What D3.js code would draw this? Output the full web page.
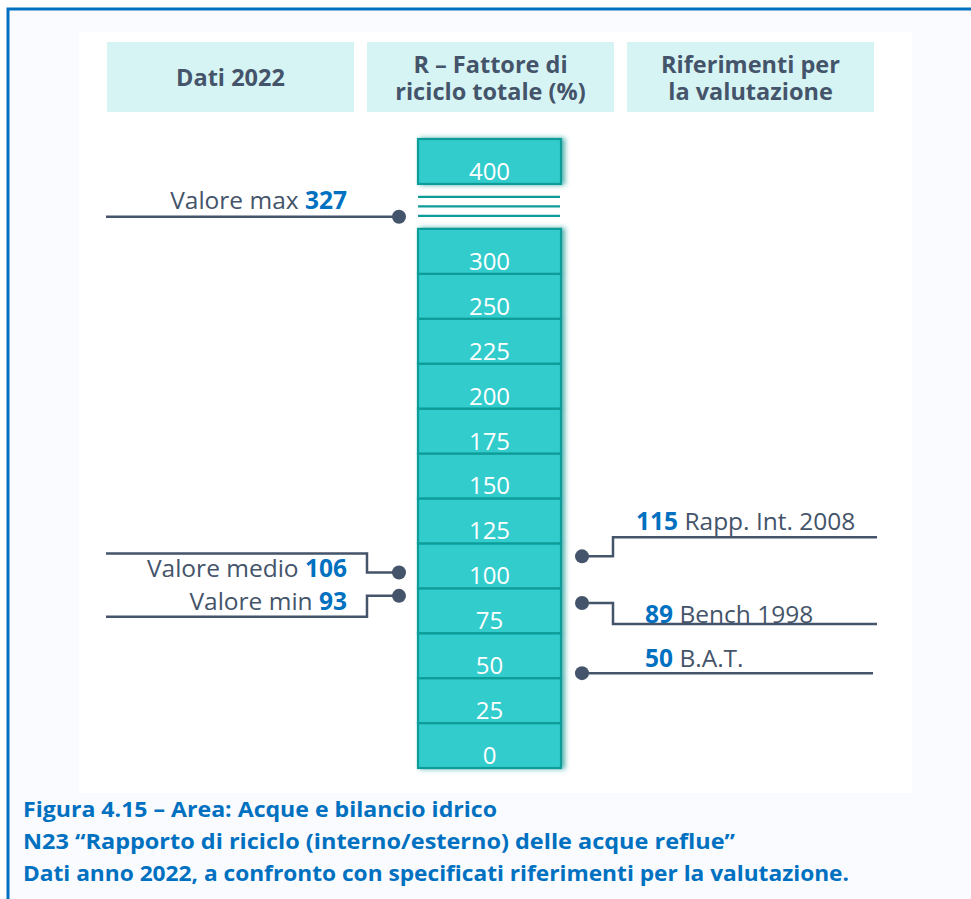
<!DOCTYPE html>
<html><head><meta charset="utf-8">
<script src="https://cdn.jsdelivr.net/npm/d3@7"></script>
<style>html,body{margin:0;padding:0;background:#fff;} svg{display:block;}</style>
</head><body>
<script>
// ---------- data ----------
const segmentTicks = [0, 25, 50, 75, 100, 125, 150, 175, 200, 225, 250, 300];
const topTick = 400;
const headerLines = [["Dati 2022"], ["R – Fattore di", "riciclo totale (%)"], ["Riferimenti per", "la valutazione"]];
const datiLabels = ["Valore max", "Valore medio", "Valore min"];
const datiValues = [327, 106, 93];
const refLabels = ["Rapp. Int. 2008", "Bench 1998", "B.A.T."];
const refValues = [115, 89, 50];
const captionLines = [
  "Figura 4.15 – Area: Acque e bilancio idrico",
  "N23 “Rapporto di riciclo (interno/esterno) delle acque reflue”",
  "Dati anno 2022, a confronto con specificati riferimenti per la valutazione."
];

// ---------- layout / style ----------
const W = 971, H = 899;
const FONT = "'Open Sans', 'Noto Sans', sans-serif";
const GREY = "#44546A", BLUE = "#0070C0", FILL = "#33CCCC", EDGE = "#0E9C98";
const barX0 = 418, barX1 = 561;

const svg = d3.select("body").append("svg").attr("width", W).attr("height", H);
const defs = svg.append("defs");
const f = defs.append("filter").attr("id", "halo").attr("x", "-20%").attr("y", "-20%").attr("width", "140%").attr("height", "140%");
f.append("feGaussianBlur").attr("in", "SourceAlpha").attr("stdDeviation", 2.6).attr("result", "b");
f.append("feOffset").attr("in", "b").attr("dx", 3).attr("dy", 0).attr("result", "o");
f.append("feFlood").attr("flood-color", "#1A9C98").attr("flood-opacity", 0.75);
f.append("feComposite").attr("in2", "o").attr("operator", "in").attr("result", "s");
const m = f.append("feMerge"); m.append("feMergeNode").attr("in", "s"); m.append("feMergeNode").attr("in", "SourceGraphic");

// backgrounds and frame
svg.append("rect").attr("x", 8).attr("y", 9).attr("width", W).attr("height", H).attr("fill", "#F9FBFE");
svg.append("rect").attr("x", 79).attr("y", 32).attr("width", 833).attr("height", 761).attr("fill", "#FFFFFF");
svg.append("rect").attr("x", 8).attr("y", 9).attr("width", W + 20).attr("height", H + 20)
  .attr("fill", "none").attr("stroke", BLUE).attr("stroke-width", 3);

// header boxes
const hx = d3.scaleBand().domain(d3.range(headerLines.length)).range([107, 874]).paddingInner(0.05);
const hg = svg.append("g").selectAll("g").data(headerLines).join("g");
hg.append("rect").attr("x", (d, i) => hx(i)).attr("y", 42).attr("width", hx.bandwidth()).attr("height", 70).attr("fill", "#D7F4F4");
hg.each(function (lines, i) {
  const g = d3.select(this);
  const cx = hx(i) + hx.bandwidth() / 2;
  const t = g.append("text").attr("text-anchor", "middle")
    .attr("font-family", FONT).attr("font-weight", 700).attr("font-size", 23.5).attr("fill", GREY);
  const baselines = lines.length === 1 ? [86] : [73, 100];
  lines.forEach((s, j) => t.append("tspan").attr("x", cx).attr("y", baselines[j]).text(s));
});

// vertical scale (bands) for the segments
const bandDomain = segmentTicks.map(String).concat(["break", String(topTick)]);
const y = d3.scaleBand().domain(bandDomain).range([768, 139]).paddingInner(0);
const bw = y.bandwidth();

// value scale: piecewise through the segments, break between 300 and 400
const valDomain = segmentTicks.concat([topTick]);
const valRange = segmentTicks.map(t => t === 300 ? y("300") : y(String(t)) + bw - 5).concat([y(String(topTick)) + bw]);
const yv = d3.scaleLinear().domain(valDomain).range(valRange);

function drawSegments(keys) {
  const g = svg.append("g").attr("filter", "url(#halo)");
  g.selectAll("rect").data(keys).join("rect")
    .attr("x", barX0).attr("y", d => y(d)).attr("width", barX1 - barX0).attr("height", bw)
    .attr("fill", FILL).attr("stroke", EDGE).attr("stroke-width", 2.2);
  return g;
}
drawSegments(segmentTicks.map(String));
drawSegments([String(topTick)]);
svg.append("g").selectAll("text").data(segmentTicks.map(String).concat([String(topTick)])).join("text")
  .attr("x", (barX0 + barX1) / 2).attr("y", d => y(d) + bw - 4).attr("text-anchor", "middle")
  .attr("font-family", FONT).attr("font-size", 24).attr("fill", "#FFFFFF").text(d => d);

// break lines
const by = y("break");
svg.append("g").selectAll("line").data([-9.5, 0, 9.5]).join("line")
  .attr("x1", barX0).attr("x2", barX1 - 1).attr("y1", d => by + bw / 2 + d).attr("y2", d => by + bw / 2 + d)
  .attr("stroke", EDGE).attr("stroke-width", 2.2);

// annotations
const leftCfg = [{ elbow: 0, tdy: -8 }, { elbow: -19, tdy: 4 }, { elbow: 21, tdy: 14 }];
const rightCfg = [{ elbow: -19, tdy: -26, tx: 636 }, { elbow: 21, tdy: 20, tx: 645 }, { elbow: 0, tdy: -6, tx: 645, end: 873 }];
const ann = svg.append("g");
const dotLX = barX0 - 19, dotRX = barX1 + 21;

datiValues.forEach((v, i) => {
  const cy = yv(v), c = leftCfg[i];
  const pts = c.elbow === 0 ? [[dotLX, cy], [106, cy]] : [[dotLX, cy], [367, cy], [367, cy + c.elbow], [106, cy + c.elbow]];
  ann.append("path").attr("d", d3.line()(pts)).attr("fill", "none").attr("stroke", GREY).attr("stroke-width", 2.5);
  ann.append("circle").attr("cx", dotLX).attr("cy", cy).attr("r", 7).attr("fill", GREY);
  const t = ann.append("text").attr("x", 347).attr("y", cy + c.tdy).attr("text-anchor", "end")
    .attr("font-family", FONT).attr("font-size", 24.5).attr("fill", GREY);
  t.append("tspan").text(datiLabels[i] + " ");
  t.append("tspan").attr("font-weight", 700).attr("fill", BLUE).text(v);
});

refValues.forEach((v, i) => {
  const cy = yv(v), c = rightCfg[i];
  const end = c.end || 877;
  const pts = c.elbow === 0 ? [[dotRX, cy], [end, cy]] : [[dotRX, cy], [613, cy], [613, cy + c.elbow], [end, cy + c.elbow]];
  ann.append("path").attr("d", d3.line()(pts)).attr("fill", "none").attr("stroke", GREY).attr("stroke-width", 2.5);
  ann.append("circle").attr("cx", dotRX).attr("cy", cy).attr("r", 7).attr("fill", GREY);
  const t = ann.append("text").attr("x", c.tx).attr("y", cy + c.tdy)
    .attr("font-family", FONT).attr("font-size", 24.5).attr("fill", GREY);
  t.append("tspan").attr("font-weight", 700).attr("fill", BLUE).text(v);
  t.append("tspan").text(" " + refLabels[i]);
});

// caption
const capW = [474, 712, 826];
svg.append("g").selectAll("text").data(captionLines).join("text")
  .attr("x", 23).attr("y", (d, i) => 817 + i * 32)
  .attr("font-family", FONT).attr("font-weight", 700).attr("font-size", 22).attr("fill", BLUE)
  .attr("textLength", (d, i) => capW[i]).attr("lengthAdjust", "spacingAndGlyphs")
  .text(d => d);
</script>
</body></html>
